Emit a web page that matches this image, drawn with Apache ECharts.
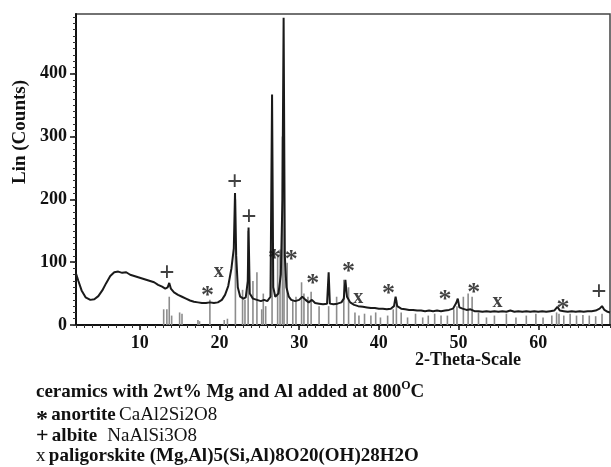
<!DOCTYPE html>
<html>
<head>
<meta charset="utf-8">
<title>XRD ceramics</title>
<script src="https://cdn.jsdelivr.net/npm/echarts@6/dist/echarts.min.js"></script>
<style>
  html, body { margin: 0; padding: 0; background: #fff; }
  #xrd { width: 611px; height: 467px; }
</style>
</head>
<body>
<div id="xrd"></div>
<script>
// measured pattern [2theta, counts]
const pattern = [
  [2.0,82],[2.3,70],[2.7,55],[3.2,44],[3.8,40],[4.3,41],[4.8,46],[5.3,55],[5.8,67],[6.3,78],
  [6.8,84],[7.3,85],[7.8,83],[8.3,84],[8.8,80],[9.3,78],[9.8,76],[10.3,74],[10.8,72],[11.3,70],
  [11.8,68],[12.3,64],[12.8,61],[13.2,58],[13.5,60],[13.7,67],[13.9,58],[14.3,52],[14.8,48],[15.3,45],
  [15.8,42],[16.3,39],[16.8,37],[17.3,36],[17.8,35],[18.3,35],[18.8,36],[19.3,35],[19.8,36],[20.3,40],
  [20.7,48],[21.1,62],[21.5,90],[21.8,122],[21.95,210],[22.1,110],[22.3,60],[22.6,45],[23.0,42],[23.3,44],
  [23.55,70],[23.65,155],[23.8,50],[24.2,42],[24.7,40],[25.2,38],[25.6,40],[26.0,38],[26.4,45],[26.6,367],
  [26.75,60],[27.0,45],[27.4,50],[27.7,80],[27.9,200],[28.05,489],[28.2,110],[28.4,60],[28.7,45],[29.0,40],
  [29.5,38],[30.0,40],[30.4,45],[30.8,40],[31.2,36],[31.6,40],[32.0,35],[32.5,34],[33.0,33],[33.5,34],
  [33.7,84],[33.85,34],[34.3,33],[34.8,34],[35.3,36],[35.6,42],[35.8,72],[36.0,45],[36.4,36],[36.9,32],
  [37.4,30],[38.0,29],[38.5,28],[39.0,27],[39.5,27],[40.0,26],[40.5,26],[41.0,25],[41.5,26],[41.9,30],
  [42.1,45],[42.3,30],[42.8,26],[43.3,25],[43.8,24],[44.3,24],[44.8,23],[45.3,23],[45.8,22],[46.3,23],
  [46.8,22],[47.3,23],[47.8,22],[48.3,23],[48.8,24],[49.3,26],[49.7,35],[49.9,42],[50.1,28],[50.5,26],
  [51.0,24],[51.5,25],[52.0,22],[52.5,22],[53.0,21],[53.5,22],[54.0,21],[54.5,22],[55.0,21],[55.5,22],
  [56.0,21],[56.5,23],[57.0,21],[57.5,22],[58.0,21],[58.5,22],[59.0,21],[59.5,22],[60.0,21],[60.5,22],
  [61.0,21],[61.5,22],[62.0,23],[62.4,29],[62.7,23],[63.2,22],[63.7,21],[64.2,22],[64.7,21],[65.2,22],
  [65.7,21],[66.2,22],[66.7,22],[67.2,23],[67.7,26],[68.0,30],[68.3,24],[68.7,21],[69.0,20]
];

// reference stick positions (grey lines)
const refSticks = [
  [13.0,25],[13.4,25],[13.7,45],[14.0,15],[15.0,20],[15.3,18],[17.3,8],[17.5,6],[18.8,40],[20.6,8],
  [21.0,10],[22.0,200],[22.9,56],[23.2,40],[23.6,150],[24.2,70],[24.7,84],[25.3,25],[25.5,50],[25.8,30],
  [26.6,247],[27.3,110],[27.6,120],[27.9,300],[28.1,250],[28.5,99],[29.2,40],[29.6,45],[30.3,68],[30.6,50],
  [31.1,45],[31.5,53],[32.5,30],[33.7,30],[34.7,45],[35.6,72],[36.2,60],[37.0,20],[37.5,15],[38.2,18],
  [39.0,15],[39.6,20],[40.2,12],[41.1,15],[41.8,25],[42.2,40],[42.8,20],[43.6,12],[44.6,18],[45.5,12],
  [46.2,15],[47.0,18],[47.8,15],[48.6,15],[49.4,25],[49.8,30],[50.6,45],[51.2,50],[51.7,45],[52.5,20],
  [53.5,12],[54.5,15],[56.0,18],[57.2,12],[58.5,15],[59.7,18],[60.6,12],[61.7,15],[62.3,20],[62.6,18],
  [63.2,15],[64.0,18],[64.8,15],[65.6,16],[66.4,15],[67.2,14],[68.0,18]
];

// phase markers
const anortite = [[18.5,56],[26.9,114],[29.0,112],[31.7,74],[36.2,93],[41.2,58],[48.3,49],[51.9,60],[63.1,35]];
const albite = [[13.4,81],[21.9,226],[23.7,170],[67.6,51]];
const paligorskite = [[19.9,82],[37.4,40],[54.9,33]];

const xLabels = [10, 20, 30, 40, 50, 60];
const yLabels = [0, 100, 200, 300, 400];
const xMinor = [];
for (let v = 2; v <= 69; v++) xMinor.push(v);
const yMinor = [];
for (let v = 0; v <= 490; v += 10) yMinor.push(v);

const serif = '"Liberation Serif", "DejaVu Serif", serif';

const chart = echarts.init(document.getElementById('xrd'));

const markerSeries = (name, data, ch, size, dy) => ({
  name: name,
  type: 'scatter',
  data: data,
  symbolSize: 2,
  itemStyle: { color: 'rgba(0,0,0,0)' },
  z: 5,
  label: {
    show: true,
    position: 'inside',
    formatter: ch,
    fontFamily: serif,
    fontWeight: 'bold',
    fontSize: size,
    color: '#111',
    offset: [0, dy]
  }
});

chart.setOption({
  animation: false,
  grid: {
    left: 76, right: 1, top: 14, bottom: 142,
    show: true,
    borderColor: '#444',
    borderWidth: 1.5
  },
  xAxis: [
    {
      type: 'value', min: 2, max: 69,
      axisLine: { lineStyle: { color: '#111', width: 2 } },
      axisTick: { customValues: xLabels, length: 5, lineStyle: { color: '#111', width: 1.5 } },
      axisLabel: {
        customValues: xLabels, margin: 9,
        fontFamily: serif, fontWeight: 'bold', fontSize: 18, color: '#111'
      },
      splitLine: { show: false }
    },
    {
      type: 'value', min: 2, max: 69, position: 'bottom',
      axisLine: { show: false },
      axisTick: { customValues: xMinor, length: 3, lineStyle: { color: '#333', width: 1 } },
      axisLabel: { show: false },
      splitLine: { show: false }
    }
  ],
  yAxis: [
    {
      type: 'value', min: 0, max: 495,
      axisLine: { show: true, lineStyle: { color: '#111', width: 2 } },
      axisTick: { show: true, customValues: yLabels, length: 6, lineStyle: { color: '#111', width: 1.5 } },
      axisLabel: {
        customValues: yLabels, margin: 9,
        fontFamily: serif, fontWeight: 'bold', fontSize: 18, color: '#111'
      },
      splitLine: { show: false }
    },
    {
      type: 'value', min: 0, max: 495, position: 'left',
      axisLine: { show: false },
      axisTick: { show: true, customValues: yMinor, length: 3, lineStyle: { color: '#333', width: 1 } },
      axisLabel: { show: false },
      splitLine: { show: false }
    }
  ],
  series: [
    {
      name: 'reference',
      type: 'bar',
      data: refSticks,
      barWidth: 1.6,
      itemStyle: { color: '#8c8c8c' },
      z: 1
    },
    {
      name: 'pattern',
      type: 'line',
      data: pattern,
      symbol: 'none',
      lineStyle: { color: '#1a1a1a', width: 2 },
      z: 3
    },
    markerSeries('anortite', anortite, '*', 26, 6),
    markerSeries('albite', albite, '+', 27, 0),
    markerSeries('paligorskite', paligorskite, 'x', 20, -2)
  ],
  graphic: [
    {
      type: 'text', x: 20, y: 132, rotation: Math.PI / 2,
      style: {
        text: 'Lin (Counts)', fill: '#111',
        font: 'bold 19px ' + serif,
        align: 'center', verticalAlign: 'middle'
      }
    },
    {
      type: 'text', x: 468, y: 360,
      style: {
        text: '2-Theta-Scale', fill: '#111',
        font: 'bold 18px ' + serif,
        align: 'center', verticalAlign: 'middle'
      }
    },
    {
      type: 'text', left: 36, top: 380,
      style: {
        text: '{b|ceramics with 2wt% Mg and Al added at 800}{sup|O}{b|C}',
        fill: '#111',
        rich: {
          b: { fontFamily: serif, fontWeight: 'bold', fontSize: 19, lineHeight: 22, verticalAlign: 'bottom' },
          sup: { fontFamily: serif, fontWeight: 'bold', fontSize: 12, verticalAlign: 'top', padding: [0, 0, 8, 0] }
        }
      }
    },
    {
      type: 'text', left: 36, top: 399,
      style: {
        text: '{s|*} {b|anortite} {n|CaAl2Si2O8}',
        fill: '#111',
        rich: {
          s: { fontFamily: serif, fontWeight: 'bold', fontSize: 24, lineHeight: 22, padding: [9, 0, 0, 0] },
          b: { fontFamily: serif, fontWeight: 'bold', fontSize: 19, lineHeight: 22 },
          n: { fontFamily: serif, fontSize: 19, lineHeight: 22 }
        }
      }
    },
    {
      type: 'text', left: 36, top: 425,
      style: {
        text: '{s|+} {b|albite}   {n|NaAlSi3O8}',
        fill: '#111',
        rich: {
          s: { fontFamily: serif, fontWeight: 'bold', fontSize: 22, lineHeight: 22 },
          b: { fontFamily: serif, fontWeight: 'bold', fontSize: 19, lineHeight: 22 },
          n: { fontFamily: serif, fontSize: 19, lineHeight: 22 }
        }
      }
    },
    {
      type: 'text', left: 36, top: 447,
      style: {
        text: '{s|x} {b|paligorskite (Mg,Al)5(Si,Al)8O20(OH)28H2O}',
        fill: '#111',
        rich: {
          s: { fontFamily: serif, fontSize: 19, lineHeight: 22 },
          b: { fontFamily: serif, fontWeight: 'bold', fontSize: 19, lineHeight: 22 }
        }
      }
    }
  ]
});

window.addEventListener('resize', () => chart.resize());
</script>
</body>
</html>
